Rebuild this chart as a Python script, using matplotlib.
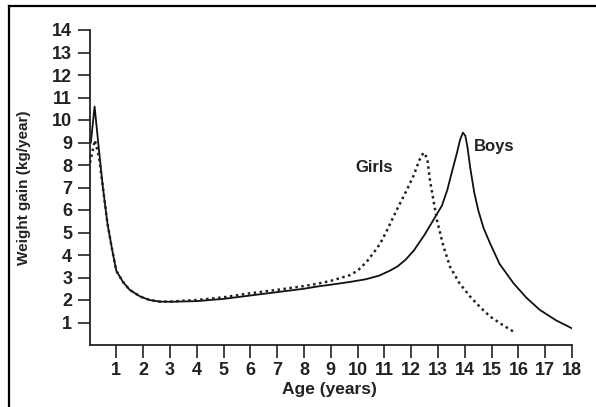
import matplotlib.pyplot as plt
from matplotlib.lines import Line2D

# values
boys_age = [0.05, 0.19, 0.35, 0.5, 0.67, 0.85, 1.0, 1.25, 1.5, 1.9, 2.24, 2.6, 3.0,
            4.0, 5.0, 6.0, 7.0, 8.0, 8.5, 9.0, 9.7, 10.3, 10.8, 11.2, 11.5, 11.8,
            12.1, 12.5, 12.9, 13.15, 13.35, 13.5, 13.7, 13.82, 13.93, 14.02, 14.1,
            14.2, 14.35, 14.5, 14.7, 14.95, 15.3, 15.82, 16.3, 16.8, 17.4, 18.0]
boys_gain = [9.0, 10.6, 8.7, 7.0, 5.4, 4.2, 3.3, 2.8, 2.45, 2.15, 2.0, 1.93, 1.92,
             1.95, 2.05, 2.2, 2.35, 2.5, 2.6, 2.68, 2.8, 2.92, 3.08, 3.3, 3.5, 3.8,
             4.2, 4.9, 5.7, 6.2, 6.9, 7.6, 8.5, 9.1, 9.44, 9.3, 8.8,
             7.9, 6.8, 6.0, 5.2, 4.5, 3.6, 2.74, 2.1, 1.56, 1.1, 0.74]

girls_age = [0.02, 0.2, 0.35, 0.5, 0.67, 0.85, 1.0, 1.25, 1.5, 1.9, 2.24, 2.6, 3.0,
             4.0, 5.0, 6.0, 7.0, 8.0, 8.5, 9.0, 9.7, 10.0, 10.34, 10.6, 10.84, 11.1,
             11.46, 11.8, 12.08, 12.3, 12.46, 12.6, 12.7, 12.96, 13.2, 13.45, 13.8,
             14.2, 14.6, 14.95, 15.4, 15.88]
girls_gain = [8.1, 9.1, 8.4, 7.0, 5.4, 4.2, 3.3, 2.8, 2.45, 2.15, 2.0, 1.93, 1.93,
              2.0, 2.12, 2.3, 2.45, 2.62, 2.72, 2.85, 3.1, 3.3, 3.7, 4.1, 4.5, 5.1,
              6.0, 6.8, 7.5, 8.2, 8.55, 8.3, 7.33, 5.56, 4.4, 3.48, 2.75,
              2.15, 1.65, 1.26, 0.9, 0.55]

x_ticks = list(range(1, 19))
y_ticks = list(range(1, 15))

W, H = 596, 407
fig = plt.figure(figsize=(W / 100, H / 100), dpi=100)
ax = fig.add_axes([89.5 / W, (H - 345) / H, (572 - 89.5) / W, (345 - 30) / H])

ax.plot(boys_age, boys_gain, color='#111111', lw=1.3, solid_joinstyle='round')
ax.plot(girls_age, girls_gain, color='#222222', lw=1.8, linestyle=(0, (1, 1.4)))

ax.set_xlim(0, 18)
ax.set_ylim(0, 14)
ax.set_xticks(x_ticks)
ax.set_yticks(y_ticks)

for s in ['top', 'right']:
    ax.spines[s].set_visible(False)
for s in ['left', 'bottom']:
    ax.spines[s].set_linewidth(1.3)
    ax.spines[s].set_color('#222222')

font = {'family': 'Liberation Sans', 'weight': 'bold'}
ax.tick_params(length=9, width=1.2, color='#222222', direction='out', pad=3.5)
for lab in ax.get_xticklabels() + ax.get_yticklabels():
    lab.set_fontfamily('Liberation Sans')
    lab.set_fontweight('bold')
    lab.set_fontsize(13)
    lab.set_color('#222222')

ax.set_xlabel('Age (years)', fontsize=12.5, color='#222222', **font)
ax.set_ylabel('Weight gain (kg/year)', fontsize=11, color='#222222', **font)
ax.xaxis.set_label_coords(0.498, -0.117)
ax.yaxis.set_label_coords(-0.121, 0.5)

ax.text(10.6, 7.87, 'Girls', fontsize=12, color='#222222', ha='center', va='center', **font)
ax.text(15.09, 8.84, 'Boys', fontsize=12, color='#222222', ha='center', va='center', **font)

# partial picture frame (left and top edges)
fig.add_artist(Line2D([9 / W, 9 / W], [0, 1 - 6 / H], transform=fig.transFigure,
                      color='black', lw=1.6))
fig.add_artist(Line2D([9 / W, 1], [1 - 6 / H, 1 - 6 / H], transform=fig.transFigure,
                      color='black', lw=1.6))

fig.savefig('out.png', dpi=100)
